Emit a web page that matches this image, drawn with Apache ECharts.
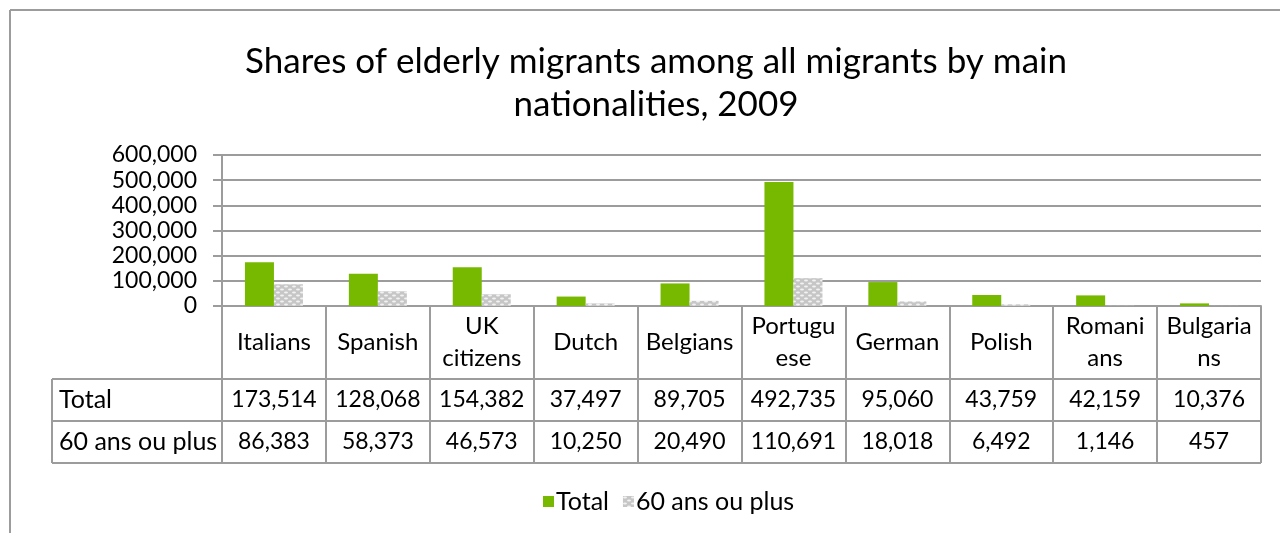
<!DOCTYPE html>
<html>
<head>
<meta charset="utf-8">
<script src="https://cdn.jsdelivr.net/npm/echarts@6/dist/echarts.min.js"></script>
<style>
  html, body { margin: 0; padding: 0; background: #ffffff; }
  #chart { width: 1280px; height: 533px; }
</style>
</head>
<body>
<div id="chart"></div>
<script>
// Migrants by main nationality, 2009
const categories = ['Italians', 'Spanish', 'UK\ncitizens', 'Dutch', 'Belgians', 'Portugu\nese', 'German', 'Polish', 'Romani\nans', 'Bulgaria\nns'];
const totalValues = [173514, 128068, 154382, 37497, 89705, 492735, 95060, 43759, 42159, 10376];
const elderlyValues = [86383, 58373, 46573, 10250, 20490, 110691, 18018, 6492, 1146, 457];
const seriesNames = ['Total', '60 ans ou plus'];
const yMin = 0, yMax = 600000, yInterval = 100000;
const titleText = 'Shares of elderly migrants among all migrants by main\nnationalities, 2009';

const FONT = 'Lato, "Open Sans", sans-serif';
const GREEN = '#77b800';
const LINE = '#9c9c9c';

// layout of the plot and the data table under it
const GRID = { left: 222, right: 19, top: 155, height: 151 };
const HEADER_H = 73, ROW_H = 42, TABLE_LEFT = 52;

// light grey fill with staggered white dots
function dotPattern() {
  const c = document.createElement('canvas');
  c.width = 8; c.height = 6;
  const g = c.getContext('2d');
  g.fillStyle = '#c6c6c6';
  g.fillRect(0, 0, 8, 6);
  g.fillStyle = '#f2f2f2';
  g.beginPath(); g.ellipse(2, 1.5, 2, 1, 0, 0, Math.PI * 2); g.fill();
  g.beginPath(); g.ellipse(6, 4.5, 2, 1, 0, 0, Math.PI * 2); g.fill();
  g.beginPath(); g.ellipse(-2, 4.5, 2, 1, 0, 0, Math.PI * 2); g.fill();
  return c;
}

const fmt = v => v.toLocaleString('en-US');
const chart = echarts.init(document.getElementById('chart'), null, { renderer: 'canvas' });

const axisBottom = GRID.top + GRID.height;

chart.setOption({
  animation: false,
  backgroundColor: '#ffffff',
  title: {
    text: titleText,
    left: 651,
    textAlign: 'center',
    top: 35,
    textStyle: { fontFamily: FONT, fontSize: 35, fontWeight: 'normal', color: '#000', lineHeight: 43 }
  },
  legend: {
    data: seriesNames,
    left: 538,
    top: 484,
    itemWidth: 11,
    itemHeight: 11,
    itemGap: 14,
    icon: 'rect',
    textStyle: { fontFamily: FONT, fontSize: 25, color: '#000', padding: [0, 0, 0, -3] }
  },
  grid: { left: GRID.left, right: GRID.right, top: GRID.top, height: GRID.height, containLabel: false },
  xAxis: {
    type: 'category',
    data: categories,
    axisLine: { show: true, lineStyle: { color: LINE, width: 2 } },
    axisTick: { show: true, length: HEADER_H + 2 * ROW_H, lineStyle: { color: LINE, width: 2 } },
    axisLabel: {
      fontFamily: FONT, fontSize: 24, color: '#000',
      verticalAlign: 'middle', lineHeight: 32, margin: HEADER_H / 2, interval: 0
    }
  },
  yAxis: {
    type: 'value',
    min: yMin, max: yMax, interval: yInterval,
    axisLine: { show: true, lineStyle: { color: LINE, width: 2 } },
    axisTick: { show: true, length: 9, lineStyle: { color: LINE, width: 2 } },
    axisLabel: { fontFamily: FONT, fontSize: 23, color: '#000', margin: 25, formatter: v => fmt(v) },
    splitLine: { show: true, lineStyle: { color: LINE, width: 2 } }
  },
  series: [
    { name: seriesNames[0], type: 'bar', data: totalValues, barWidth: 29, barGap: '0%',
      itemStyle: { color: GREEN } },
    { name: seriesNames[1], type: 'bar', data: elderlyValues, barWidth: 29,
      itemStyle: { color: { image: dotPattern(), repeat: 'repeat' } } }
  ]
});

// data table: rows of values under each category column
function drawTable() {
  const c0 = chart.convertToPixel({ xAxisIndex: 0 }, 0);
  const c1 = chart.convertToPixel({ xAxisIndex: 0 }, 1);
  const band = c1 - c0;
  const xLeft = c0 - band / 2;
  const xRight = xLeft + band * categories.length;
  const rows = [
    { label: seriesNames[0], values: totalValues },
    { label: seriesNames[1], values: elderlyValues }
  ];
  const els = [];
  const line = (x1, y1, x2, y2) => els.push({
    type: 'line', silent: true,
    shape: { x1, y1, x2, y2 },
    style: { stroke: LINE, lineWidth: 2 }
  });
  // outer frame of the chart area
  line(10, 10, 1280, 10);
  line(10, 10, 10, 533);
  // row separators
  const rowTop = axisBottom + HEADER_H;
  for (let r = 0; r <= rows.length; r++) {
    const y = rowTop + r * ROW_H;
    line(TABLE_LEFT, y, xRight, y);
  }
  line(TABLE_LEFT, rowTop, TABLE_LEFT, rowTop + rows.length * ROW_H);
  rows.forEach((row, r) => {
    const cy = rowTop + r * ROW_H + ROW_H / 2;
    els.push({
      type: 'text', silent: true,
      style: { text: row.label, x: TABLE_LEFT + 7, y: cy, textAlign: 'left', textVerticalAlign: 'middle',
               font: '25px ' + FONT, fill: '#000' }
    });
    row.values.forEach((v, i) => {
      els.push({
        type: 'text', silent: true,
        style: { text: fmt(v), x: xLeft + band * (i + 0.5), y: cy, textAlign: 'center', textVerticalAlign: 'middle',
                 font: '23px ' + FONT, fill: '#000' }
      });
    });
  });
  chart.setOption({ graphic: els });
}
drawTable();
</script>
</body>
</html>
